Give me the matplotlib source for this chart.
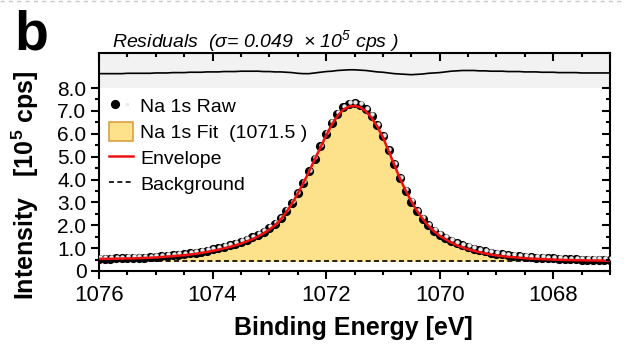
import numpy as np
import matplotlib.pyplot as plt
from matplotlib import transforms as mtransforms
from matplotlib.patches import Patch
from matplotlib.lines import Line2D
from matplotlib.legend_handler import HandlerTuple

plt.rcParams['font.family'] = 'Liberation Sans'
plt.rcParams['mathtext.fontset'] = 'custom'
plt.rcParams['mathtext.rm'] = 'Liberation Sans:italic'
plt.rcParams['mathtext.it'] = 'Liberation Sans:italic'
plt.rcParams['mathtext.bf'] = 'Liberation Sans:bold'

# Na 1s region, 0.1 eV steps from 1076.0 down to 1067.0 eV (10^5 cps)
energy = np.round(np.linspace(1076.0, 1067.0, 91), 1)

raw = [0.54, 0.54, 0.54, 0.55, 0.55, 0.57, 0.57, 0.58, 0.59, 0.60,
       0.62, 0.64, 0.66, 0.69, 0.71, 0.73, 0.77, 0.80, 0.84, 0.89,
       0.94, 0.99, 1.06, 1.12, 1.19, 1.28, 1.37, 1.47, 1.59, 1.72,
       1.88, 2.06, 2.31, 2.63, 2.99, 3.40, 3.86, 4.36, 4.91, 5.45,
       5.99, 6.48, 6.88, 7.16, 7.31, 7.34, 7.27, 7.08, 6.78, 6.38,
       5.90, 5.28, 4.66, 4.05, 3.51, 3.03, 2.62, 2.28, 2.00, 1.77,
       1.58, 1.45, 1.33, 1.22, 1.13, 1.05, 0.98, 0.91, 0.86, 0.80,
       0.76, 0.73, 0.69, 0.67, 0.65, 0.62, 0.60, 0.59, 0.57, 0.56,
       0.55, 0.53, 0.52, 0.52, 0.51, 0.50, 0.49, 0.49, 0.49, 0.48,
       0.48]

envelope = [0.53, 0.53, 0.53, 0.54, 0.54, 0.55, 0.55, 0.56, 0.57, 0.58,
            0.59, 0.61, 0.63, 0.65, 0.67, 0.69, 0.72, 0.75, 0.79, 0.83,
            0.88, 0.93, 0.99, 1.05, 1.12, 1.20, 1.29, 1.39, 1.51, 1.65,
            1.81, 2.00, 2.25, 2.58, 2.95, 3.38, 3.85, 4.35, 4.88, 5.40,
            5.92, 6.40, 6.78, 7.05, 7.19, 7.22, 7.16, 6.98, 6.70, 6.32,
            5.85, 5.25, 4.65, 4.05, 3.52, 3.05, 2.63, 2.28, 1.98, 1.74,
            1.54, 1.39, 1.25, 1.13, 1.03, 0.95, 0.88, 0.82, 0.77, 0.72,
            0.68, 0.65, 0.62, 0.60, 0.58, 0.56, 0.54, 0.53, 0.52, 0.51,
            0.50, 0.49, 0.48, 0.48, 0.47, 0.47, 0.46, 0.46, 0.46, 0.45,
            0.45]

bg_level = 0.43
fit_label = "Na 1s Fit  (1071.5 )"

raw = np.array(raw)
envelope = np.array(envelope)
background = np.full_like(envelope, bg_level)
residual = raw - envelope

fig = plt.figure(figsize=(6.3, 3.48), dpi=100)
W, H = 630, 348
ax = fig.add_axes([99 / W, 77 / H, 511 / W, 183 / H])
ax_res = fig.add_axes([99 / W, 260 / H, 511 / W, 35 / H], sharex=ax)

# main panel
ax.fill_between(energy, background, envelope, color='#fde28b', lw=0, zorder=1)
ax.plot(energy, background, color='k', lw=1.2, ls=(0, (3, 2)), zorder=2)
ax.plot(energy, raw, 'o', ms=6.6, mfc='k', mec='k', mew=0, zorder=3)
shine = mtransforms.offset_copy(ax.transData, fig=fig, x=0.5, y=1.1, units='points')
ax.plot(energy, raw, 'o', ms=3.2, mfc='#e8e8e8', mec='none', transform=shine, zorder=3.5)
ax.plot(energy, envelope, color='#ee1111', lw=1.8, zorder=4)

ax.set_xlim(1076, 1067)
ax.set_ylim(0, 8.0)
ax.set_xticks([1076, 1074, 1072, 1070, 1068])
ax.set_xticks(np.arange(1067, 1076.01, 0.5), minor=True)
ax.set_yticks(np.arange(0, 8.01, 1.0))
ax.set_yticklabels(['0'] + ['%.1f' % v for v in np.arange(1.0, 8.01, 1.0)])
ax.set_yticks(np.arange(0, 8.01, 0.5), minor=True)
ax.spines['top'].set_visible(False)
for s in ax.spines.values():
    s.set_linewidth(1.5)
ax.tick_params(axis='x', which='major', direction='out', length=6, width=1.5,
               labelsize=16, pad=4)
ax.tick_params(axis='x', which='minor', direction='out', length=3, width=1.5)
ax.tick_params(axis='y', which='major', direction='out', length=6, width=1.5,
               labelsize=15, pad=3)
ax.tick_params(axis='y', which='minor', direction='out', length=3, width=1.5)

# inward ticks on the right side
ax_r = ax.twinx()
ax_r.set_ylim(0, 8.0)
ax_r.set_yticks(np.arange(0, 8.01, 1.0))
ax_r.set_yticks(np.arange(0, 8.01, 0.5), minor=True)
ax_r.tick_params(axis='y', which='major', direction='in', length=6, width=1.5, labelright=False)
ax_r.tick_params(axis='y', which='minor', direction='in', length=3, width=1.5)
for s in ax_r.spines.values():
    s.set_visible(False)

ax.set_xlabel("Binding Energy [eV]", fontsize=18, fontweight='bold')
ax.xaxis.set_label_coords(0.497, -0.245)
ax.set_ylabel(r"Intensity   [10$^{\mathbf{5}}$ cps]", fontsize=18, fontweight='bold')
ax.yaxis.set_label_coords(-0.113, 0.47)

raw_h = (Line2D([], [], ls='none', marker='o', ms=6.6, mfc='k', mec='k', mew=0),
         Line2D([], [], ls='none', marker='o', ms=2.4, mfc='#e8e8e8', mec='none'))
fit_h = Patch(facecolor='#fde28b', edgecolor='#d9a243', lw=1.2)
env_h = Line2D([], [], color='#ee1111', lw=1.8)
bg_h = Line2D([], [], color='k', lw=1.2, ls=(0, (3, 2)))
ax.legend([raw_h, fit_h, env_h, bg_h],
          ["Na 1s Raw", fit_label, "Envelope", "Background"],
          handler_map={tuple: HandlerTuple(ndivide=None, pad=0)},
          loc='upper left', bbox_to_anchor=(0.02, 0.955), frameon=False,
          fontsize=14, handlelength=1.2, handleheight=1.1, handletextpad=0.4,
          labelspacing=0.3, borderpad=0, borderaxespad=0)

# residuals strip
ax_res.set_facecolor('#f2f2f2')
ax_res.plot(energy, residual, color='k', lw=1.2)
ax_res.set_ylim(-0.4, 0.6)
ax_res.set_yticks([])
ax_res.spines['bottom'].set_visible(False)
for s in ax_res.spines.values():
    s.set_linewidth(1.5)
ax_res.tick_params(axis='x', which='major', direction='in', length=6, width=1.5,
                   top=True, bottom=False, labelbottom=False, labeltop=False)
ax_res.tick_params(axis='x', which='minor', direction='in', length=3, width=1.5,
                   top=True, bottom=False)

fig.text(112 / W, 1 - 47 / H,
         r"Residuals  ($\sigma$= 0.049  $\times$ $10^{5}$ cps )",
         fontsize=14, style='italic', va='baseline')
fig.text(14 / W, 1 - 50 / H, "b", fontsize=40, fontweight='bold', va='baseline')

fig.add_artist(Line2D([0, 625 / W], [1 - 1 / H, 1 - 1 / H], transform=fig.transFigure,
                      color='#c8c8c8', lw=1, ls=(0, (3, 3))))

fig.savefig("out.png", dpi=100)
